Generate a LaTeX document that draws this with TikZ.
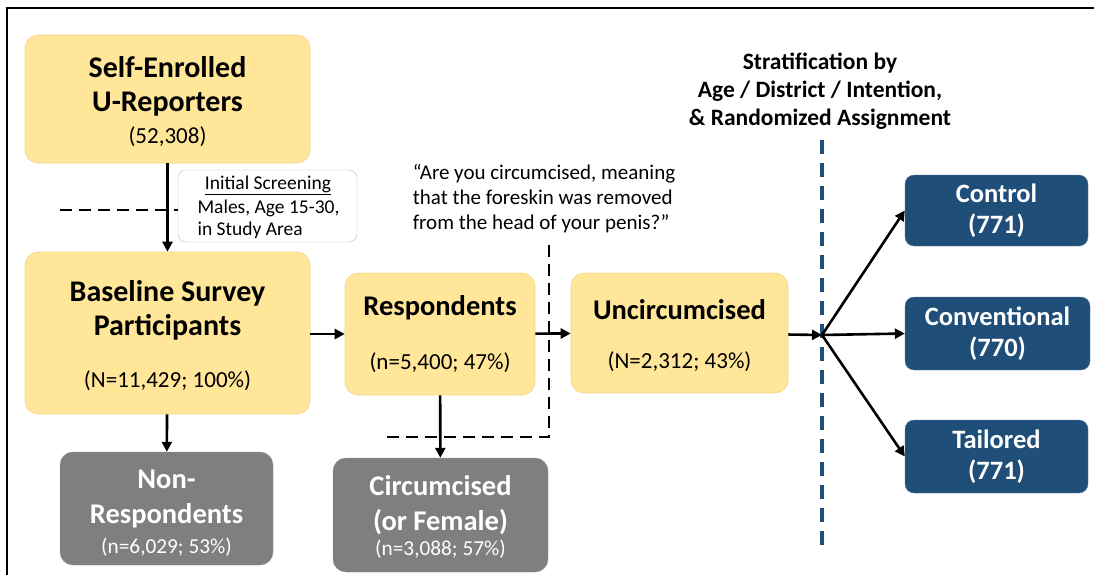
\documentclass[tikz,border=0pt]{standalone}
\usepackage{fontspec}
\setmainfont{Carlito}
\usetikzlibrary{arrows.meta}

\definecolor{sand}{HTML}{FFE699}
\definecolor{sandedge}{HTML}{F2D68C}
\definecolor{navy}{HTML}{1F4E79}
\definecolor{slate}{HTML}{7F7F7F}

\begin{document}
\begin{tikzpicture}[x=1pt,y=-1pt,
  stage/.style={draw=sandedge, fill=sand, rounded corners=13pt, line width=0.6pt},
  outbox/.style={draw=slate!85!white, fill=slate, rounded corners=13pt},
  armbox/.style={draw=navy!70!white, fill=navy, rounded corners=9pt, text=white,
    font=\bfseries\fontsize{26.5}{31}\selectfont, align=center},
  big/.style={font=\bfseries\fontsize{30}{34}\selectfont, align=center},
  mid/.style={font=\bfseries\fontsize{28.5}{35}\selectfont, align=center},
  num/.style={font=\fontsize{23}{27}\selectfont},
  small/.style={font=\fontsize{21.3}{24}\selectfont},
  scr/.style={font=\fontsize{19.5}{22}\selectfont},
  flow/.style={-{Triangle[length=10pt,width=10pt]}, line width=2.6pt},
  cut/.style={dash pattern=on 12pt off 7pt, line width=1.6pt}]
  \useasboundingbox (0,0) rectangle (1094,575);
  % frame
  \draw[line width=1.5pt] (7,575) -- (7,8) -- (1094,8);

  % enrolment
  \node[stage, minimum width=285pt, minimum height=128pt] (self) at (167.5,99) {};
  \node[big] (self-t) at (167.5,86) {Self-Enrolled\\U-Reporters};
  \node[num] (self-n) at (167.5,137) {(52,308)};

  \node[draw=gray!55, fill=white, rounded corners=8pt, minimum width=179pt, minimum height=72pt] (screen) at (267.5,206) {};
  \node[scr] (screen-h) at (268,185) {\underline{Initial Screening}};
  \node[scr, align=left, anchor=west] (screen-t) at (194,219) {Males, Age 15-30,\\in Study Area};

  \node[stage, minimum width=285pt, minimum height=162pt] (base) at (167.5,333) {};
  \node[big] (base-t) at (167.5,310) {Baseline Survey\\Participants};
  \node[num] (base-n) at (167.5,381) {(N=11,429; 100\%)};

  \node[outbox, minimum width=213pt, minimum height=113pt] (nonresp) at (166.5,508.5) {};
  \node[mid, text=white] (nonresp-t) at (166.5,499) {Non-\\Respondents};
  \node[small, text=white] (nonresp-n) at (166.5,547) {(n=6,029; 53\%)};

  % survey question
  \node[stage, minimum width=190pt, minimum height=122pt] (resp) at (440,334) {};
  \node[mid] (resp-t) at (440,308) {Respondents};
  \node[num] (resp-n) at (440,363) {(n=5,400; 47\%)};

  \node[font=\fontsize{21}{25}\selectfont, align=left] (quote) at (544,199)
    {“Are you circumcised, meaning\\that the foreskin was removed\\from the head of your penis?”};

  \node[outbox, minimum width=215pt, minimum height=114pt] (circ) at (440.5,515) {};
  \node[mid, text=white] (circ-t) at (440.5,505) {Circumcised\\(or Female)};
  \node[small, text=white] (circ-n) at (440.5,549) {(n=3,088; 57\%)};

  \node[stage, minimum width=217pt, minimum height=120pt] (uncirc) at (679.5,333) {};
  \node[mid] (uncirc-t) at (679.5,310) {Uncircumcised};
  \node[num] (uncirc-n) at (679.5,362) {(N=2,312; 43\%)};

  % randomisation
  \node[font=\bfseries\fontsize{23.5}{28}\selectfont, align=center] (strat) at (820,91)
    {Stratification by\\Age / District / Intention,\\\& Randomized Assignment};
  \draw[navy, dash pattern=on 14pt off 9pt, line width=3.2pt] (822,140) -- (822,548);
  \coordinate (split) at (822,335);

  \node[armbox, minimum width=183pt, minimum height=71pt] (ctrl) at (996.5,210.5) {Control\\(771)};
  \node[armbox, minimum width=185pt, minimum height=73pt] (conv) at (997.5,333.5) {Conventional\\(770)};
  \node[armbox, minimum width=183pt, minimum height=73pt] (tail) at (996.5,456.5) {Tailored\\(771)};

  % cut-offs
  \coordinate (scrcut) at (60,210);
  \draw[cut] (scrcut) -- (scrcut -| screen.west);
  \coordinate (qcut) at (549,245);
  \draw[cut] (qcut) |- (385,437);

  % arrows
  \draw[flow] (self) -- (base);
  \draw[flow] (base) -- (nonresp);
  \draw[flow] (base.east |- resp) -- (resp);
  \draw[flow] (resp) -- (circ);
  \draw[flow] (resp) -- (uncirc);
  \draw[flow] (uncirc) -- (split);
  \draw[flow] (split) -- (ctrl.west);
  \draw[flow] (split) -- (conv.west);
  \draw[flow] (split) -- (tail.west);
\end{tikzpicture}
\end{document}
